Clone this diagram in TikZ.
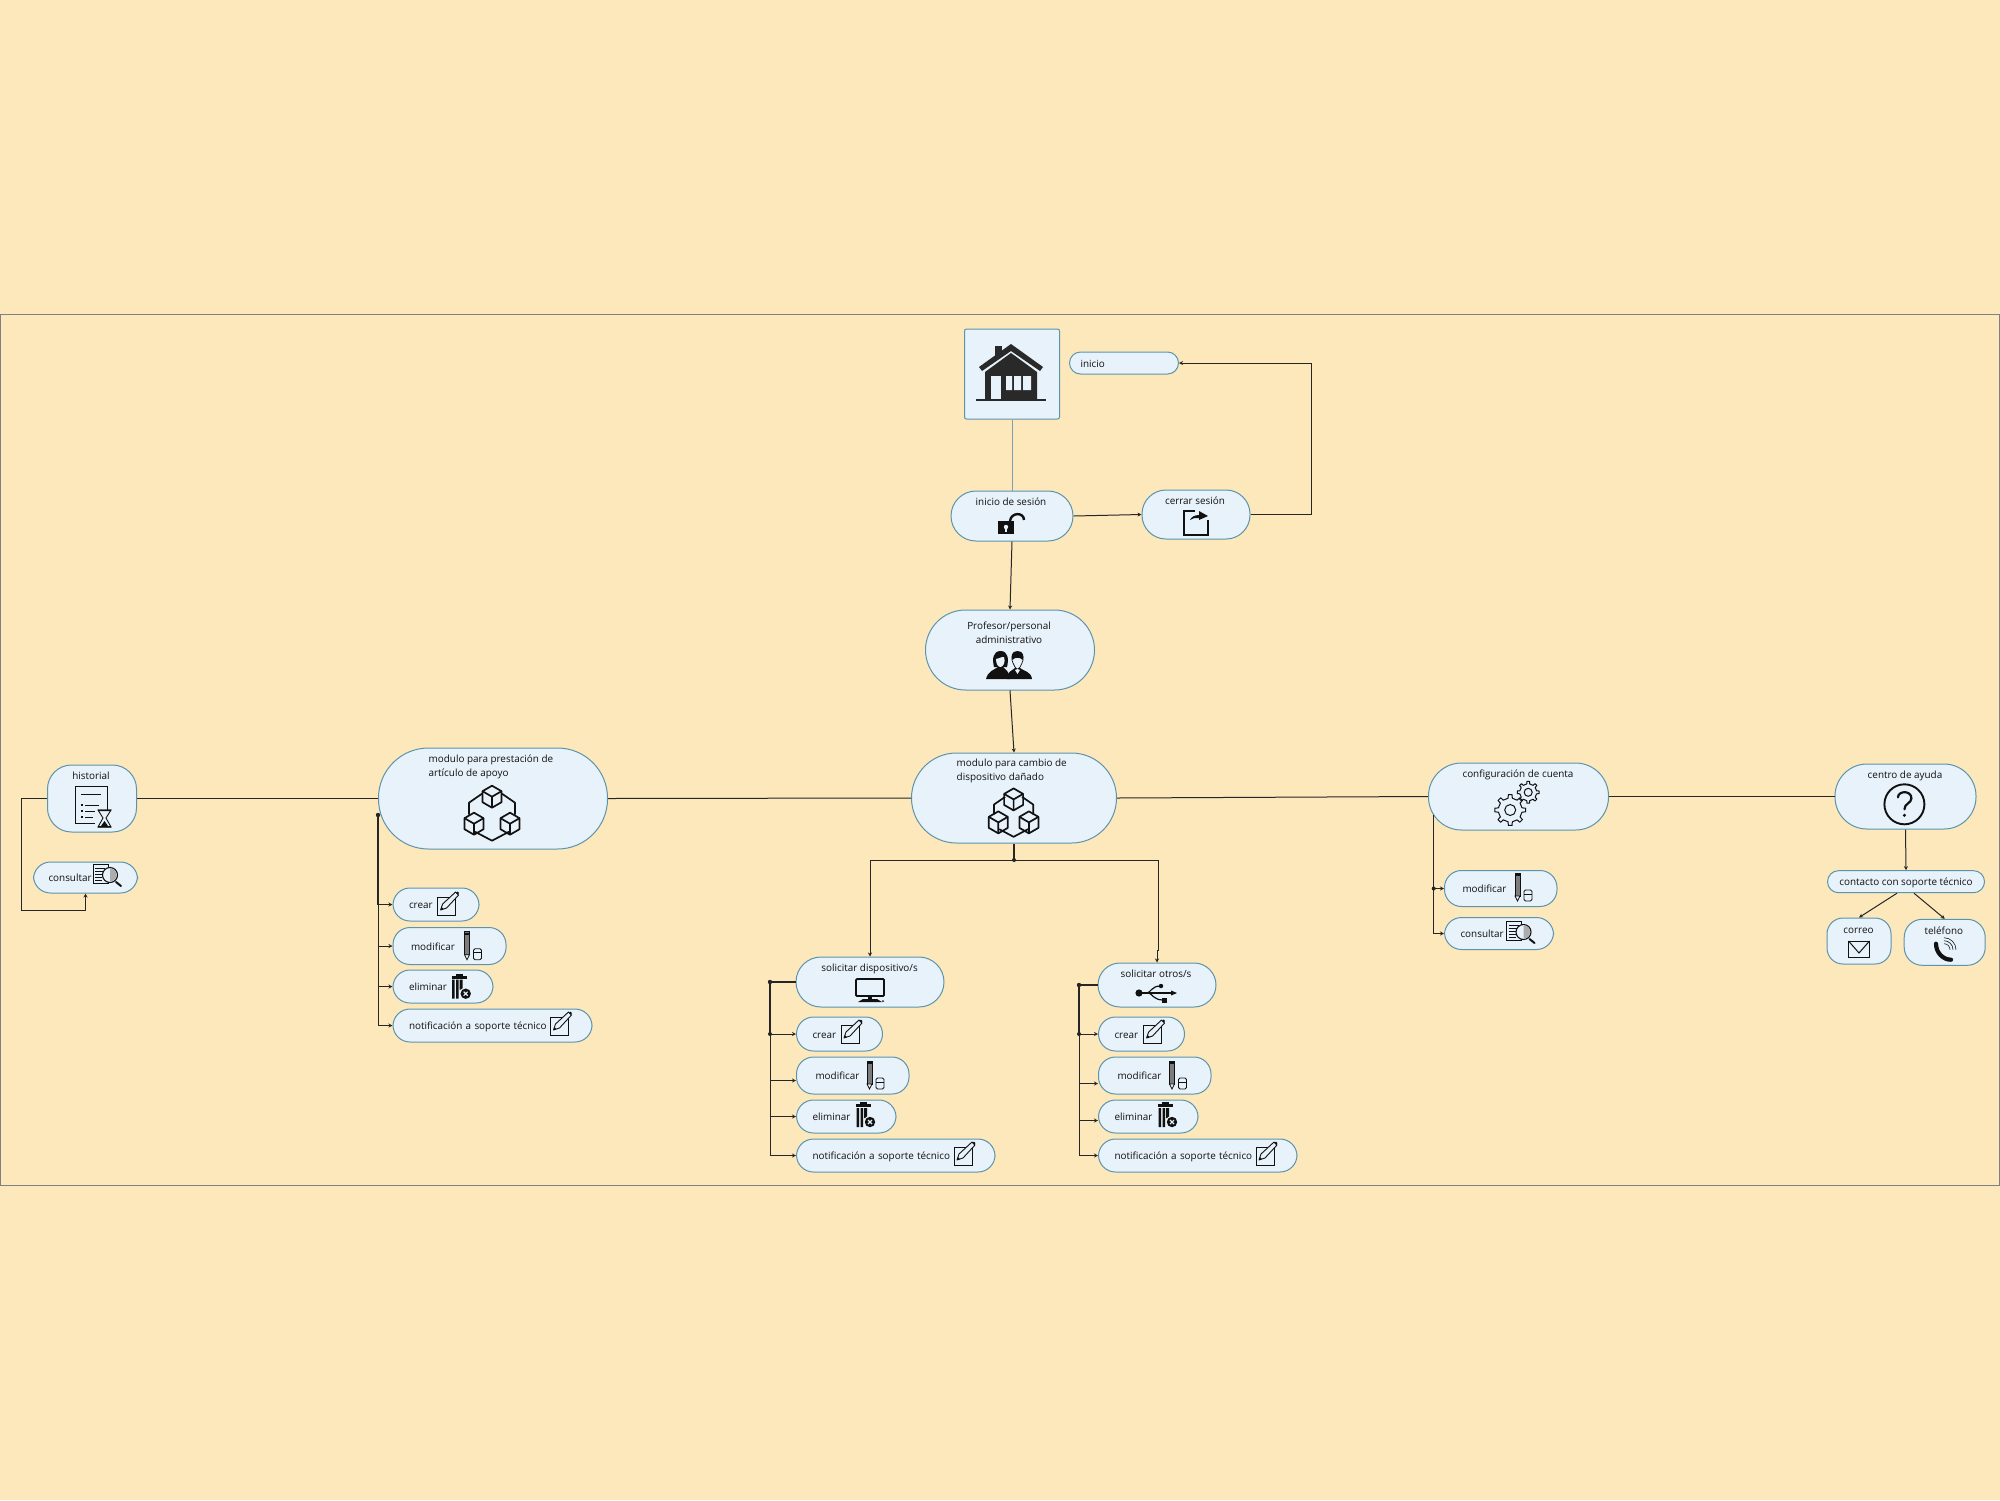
\documentclass[tikz,border=0pt]{standalone}
\usepackage{fontspec}
\setmainfont{Open Sans}
\usetikzlibrary{arrows.meta,calc}
\definecolor{paper}{HTML}{FCE8BA}
\definecolor{boxfill}{HTML}{E8F2FA}
\definecolor{boxline}{HTML}{5C93AD}
\definecolor{frameline}{HTML}{808080}
\definecolor{wire}{HTML}{262626}
\definecolor{ink}{HTML}{111111}

\tikzset{
  pill/.style={draw=boxline, fill=boxfill, line width=1pt, rounded corners=#1, inner sep=0pt},
  pill/.default=17,
  row/.style={pill, anchor=west, align=left, inner xsep=16pt, text width=#1,
    font=\fontsize{9.9}{12}\selectfont, text=ink, text height=8.5pt, text depth=.5pt},
  txt/.style={font=\fontsize{9.9}{14}\selectfont, text=ink, inner sep=0pt},
  link/.style={draw=wire, line width=1pt, -{Stealth[length=4pt,width=4pt]}},
  bar/.style={draw=wire, line width=1pt},
  % --- icons ---
  iconhouse/.pic={
    \fill[ink!90] (-32,-6) -- (0,-29) -- (32,-6) -- (29,-2) -- (0,-22) -- (-29,-2) -- cycle;
    \fill[ink!90] (-16,-27) rectangle (-9,-16);
    \fill[ink!90] (-26,-1) -- (0,-20) -- (26,-1) -- (26,26) -- (-26,26) -- cycle;
    \fill[boxfill] (-20,3) rectangle (-10,26);
    \fill[boxfill] (-5,3) rectangle (1,17) (3,3) rectangle (10,17) (12,3) rectangle (20,17);
    \fill[ink!90] (-35,26) rectangle (35,28);
  },
  iconlock/.pic={
    \fill[ink] (-13,-3) rectangle (3,10);
    \fill[boxfill] (-5,3) circle (2.2);
    \fill[boxfill] (-6,3) rectangle (-4,8);
    \draw[ink, line width=2.4pt] (-1,-3) .. controls (0,-12) and (13,-12) .. (13,-4);
  },
  iconleave/.pic={
    \draw[ink, line width=1.8pt] (-1,-12) -- (-12,-12) -- (-12,12) -- (12,12) -- (12,-3);
    \fill[ink] (-6,-3) .. controls (-5,-6) and (-1,-8) .. (3,-8) -- (3,-12) -- (12,-7) -- (3,-3) -- (3,-5)
      .. controls (-1,-5) and (-4,-5) .. (-6,-3) -- cycle;
  },
  iconstaff/.pic={
    % woman
    \fill[ink] (-23,14) .. controls (-21,6) and (-15,5) .. (-11,2) -- (-6,2)
      .. controls (-3,5) and (0,6) .. (1,14) -- cycle;
    \fill[ink] (-8.5,-14) .. controls (-16,-14) and (-17,-6) .. (-15,2) -- (-2,2) .. controls (0,-6) and (-1,-14) .. (-8.5,-14) -- cycle;
    \fill[boxfill] (-13,-6) .. controls (-8,-7) and (-6,-9) .. (-5,-8) .. controls (-3,-3) and (-6,2) .. (-8.5,2)
      .. controls (-11,2) and (-13,-1) .. (-13,-6) -- cycle;
    % man
    \fill[ink] (-2,14) .. controls (-2,6) and (3,6) .. (6,3) -- (11,3)
      .. controls (14,6) and (22,6) .. (23,14) -- cycle;
    \draw[ink, fill=boxfill, line width=.7pt] (8.5,-13) .. controls (2,-13) and (2,-5) .. (4,-2)
      .. controls (5,1) and (7,4) .. (8.5,4) .. controls (10,4) and (12,1) .. (13,-2) .. controls (15,-5) and (15,-13) .. (8.5,-13) -- cycle;
    \fill[ink] (8.5,-14) .. controls (2,-14) and (2,-8) .. (3.5,-5) .. controls (5,-8) and (12,-8) .. (13.5,-5)
      .. controls (15,-8) and (15,-14) .. (8.5,-14) -- cycle;
    \fill[boxfill] (6,5) -- (8.5,9) -- (11,5) -- (8.5,4) -- cycle;
  },
  cubeicon/.pic={
    \draw[ink, line width=1.7pt, line join=round] (0,-11) -- (9.5,-5.5) -- (9.5,5.5) -- (0,11) -- (-9.5,5.5) -- (-9.5,-5.5) -- cycle;
    \draw[ink, line width=1.7pt, line join=round] (-9.5,-5.5) -- (0,0) -- (9.5,-5.5) (0,0) -- (0,11);
  },
  iconcubes/.pic={
    \draw[ink, line width=1.7pt, line join=round] (10,-19) -- (23,-10) -- (23,2) (-10,-19) -- (-23,-10) -- (-23,2);
    \draw[ink, line width=1.7pt, line join=round] (-17,19) -- (0,28) -- (17,19);
    \pic at (0,-16) {cubeicon};
    \pic at (-18,11) {cubeicon};
    \pic at (18,11) {cubeicon};
  },
  iconcreate/.pic={
    \draw[ink, line width=.9pt] (-10,-8) rectangle (8,10);
    \draw[ink, fill=boxfill, line width=.9pt, line join=round] (-7,5) -- (-5,-1) -- (8,-13) -- (11,-10) -- (-1,3) -- cycle;
    \fill[ink] (-7,5) -- (-6,2) -- (-4,4) -- cycle;
    \fill[ink] (10,-12) circle (1.5);
  },
  iconedit/.pic={
    \draw[ink, fill=ink!55, line width=.8pt] (-8,-14) rectangle (-3,9);
    \fill[ink] (-8,-13) rectangle (-3,-11);
    \draw[ink, fill=boxfill, line width=.8pt] (-8,9) -- (-5.5,14) -- (-3,9) -- cycle;
    \draw[ink, line width=.8pt, rounded corners=1.5pt] (1,3) rectangle (9,14);
    \draw[ink, line width=.8pt] (1,7) -- (9,7);
  },
  icontrash/.pic={
    \fill[ink] (-9,-11) rectangle (6,-8);
    \fill[ink] (-5,-13) rectangle (2,-11);
    \fill[ink] (-8.5,-7) rectangle (-6,12) (-4.5,-7) rectangle (-2,12) (-1,-7) rectangle (2,3);
    \fill[boxfill] (5,7) circle (6.2);
    \fill[ink] (5,7) circle (5.2);
    \draw[boxfill, line width=1.1pt] (3,5) -- (7,9) (7,5) -- (3,9);
  },
  iconsearch/.pic={
    \draw[ink, fill=boxfill, line width=.8pt] (-14,-12) rectangle (1,7);
    \draw[ink, line width=.8pt] (-12,-8) -- (-2,-8) (-12,-5) -- (-3,-5) (-12,-2) -- (-5,-2) (-12,1) -- (-5,1) (-12,4) -- (-5,4);
    \draw[ink, fill=boxfill, line width=1.1pt] (3,-1) circle (7.5);
    \fill[ink!35] (3,-7.5) arc (-90:90:6.5) -- cycle;
    \draw[ink, line width=2pt, line cap=round] (9,6) -- (14,10);
  },
  iconreport/.pic={
    \draw[ink, line width=1pt] (14,6) -- (14,-20) -- (-18,-20) -- (-18,17) -- (2,17);
    \draw[ink, line width=1pt] (-12,-12) -- (8,-12) (-8,-1) -- (6,-1) (-8,5) -- (2,5) (-8,11) -- (0,11);
    \draw[ink, line width=1.2pt] (-12,-1) -- (-10,-1) (-12,5) -- (-10,5) (-12,11) -- (-10,11);
    \draw[ink, fill=boxfill, line width=.9pt] (5,4) -- (18,4) -- (13,12) -- (18,21) -- (5,21) -- (10,12) -- cycle;
    \fill[ink] (5,3.5) rectangle (18,5) (5,20) rectangle (18,21.5);
    \fill[ink] (11.5,15) -- (15,20) -- (8,20) -- cycle;
  },
  iconscreen/.pic={
    \draw[ink, line width=1.8pt, rounded corners=1pt] (-14,-11) rectangle (14,6);
    \fill[ink] (-2,6) rectangle (2,9);
    \fill[ink] (-7,9) -- (7,9) -- (12,12) -- (-12,12) -- cycle;
    \fill[ink] (13,11) circle (1);
  },
  iconusb/.pic={
    \fill[ink] (-17,0) circle (3.6);
    \draw[ink, line width=1.2pt] (-17,0) -- (16,0);
    \fill[ink] (21,0) -- (15,-2.5) -- (15,2.5) -- cycle;
    \draw[ink, line width=1.2pt] (-9,0) .. controls (-6,0) and (-4,-7) .. (4,-7);
    \fill[ink] (5,-7) circle (2.2);
    \draw[ink, line width=1.2pt] (-7,0) .. controls (-4,1) and (-2,7) .. (7,7);
    \fill[ink] (6,4.5) rectangle (11,9.5);
  },
  icongears/.pic={
    \begin{scope}[shift={(-6.5,7)}]
      \draw[ink, line width=1pt, line join=round] (-10:12)
        \foreach \a in {0,45,...,315} { -- (\a-10:12) -- (\a-7:15.5) -- (\a+7:15.5) -- (\a+10:12) } -- cycle;
      \draw[ink, line width=1pt] (0,0) circle (5.5);
    \end{scope}
    \begin{scope}[shift={(11.5,-10.7)}]
      \draw[ink, line width=1pt, line join=round] (-10:8.5)
        \foreach \a in {0,45,...,315} { -- (\a-10:8.5) -- (\a-7:11) -- (\a+7:11) -- (\a+10:8.5) } -- cycle;
      \draw[ink, line width=1pt] (0,0) circle (4);
    \end{scope}
  },
  iconhelp/.pic={
    \draw[ink, line width=1.9pt] (0,0) circle (20);
    \draw[ink, line width=2.2pt, line cap=round] (-6.5,-7) .. controls (-6,-14) and (7,-14) .. (7,-6)
      .. controls (7,-1) and (0,-1) .. (0,5);
    \fill[ink] (0,11) circle (1.7);
  },
  iconmail/.pic={
    \draw[ink, line width=1pt] (-10.5,-8) rectangle (10.5,8);
    \draw[ink, line width=1pt] (-10.5,-8) -- (0,4) -- (10.5,-8);
  },
  iconphone/.pic={
    \draw[ink, line width=4.2pt, line cap=round] (-8,-7) .. controls (-8,2) and (-1,9) .. (7,9);
    \draw[ink, line width=.6pt] (0,-7) arc (-90:0:6) (0,-10) arc (-90:0:9) (0,-13) arc (-90:0:12);
  },
}

\begin{document}
\begin{tikzpicture}[x=1pt, y=-1pt]

  % --- Page and frame ---
  \useasboundingbox (0,0) rectangle (2000,1500);
  \fill[paper] (0,0) rectangle (2000,1500);
  \draw[frameline, line width=1pt] (.5,314) rectangle (1999.5,1185);

  % --- Top: home and session ---
  \node[pill=2, minimum width=95, minimum height=90] (home) at (1012,374) {};
  \pic at (1011,373) {iconhouse};
  \node[pill=11, minimum width=109, minimum height=22, anchor=west, align=left, inner xsep=11pt, text width=87pt,
    font=\fontsize{9.9}{12}\selectfont, text=ink, text height=8.5pt, text depth=.5pt] (inicio) at (1069,363) {inicio};

  \node[pill=25, minimum width=122, minimum height=50] (sesion) at (1012,516) {};
  \node[txt] (sesiontext) at (1011,502) {inicio de sesión};
  \pic at (1011,524) {iconlock};

  \node[pill=24, minimum width=108, minimum height=49] (cerrar) at (1196,514.5) {};
  \node[txt] (cerrartext) at (1195,501) {cerrar sesión};
  \pic at (1196,523) {iconleave};

  \node[pill=40, minimum width=169, minimum height=80] (staff) at (1010,650) {};
  \node[txt, align=center] (stafftext) at (1009,632.5) {Profesor/personal\\administrativo};
  \pic at (1009,665) {iconstaff};

  % --- Middle row ---
  \node[pill=24, minimum width=89, minimum height=67] (historial) at (92,798.5) {};
  \node[txt] (historialtext) at (91,776) {historial};
  \pic at (93,806) {iconreport};

  \node[pill=50, minimum width=229, minimum height=101] (prestamo) at (493,798.5) {};
  \node[txt, align=left, anchor=north west] (prestamotext) at (428.5,754.5) {modulo para prestación de\\artículo de apoyo};
  \pic at (492,812.7) {iconcubes};

  \node[pill=45, minimum width=205, minimum height=90] (cambio) at (1014,798) {};
  \node[txt, align=left, anchor=north west] (cambiotext) at (956.5,758.5) {modulo para cambio de\\dispositivo dañado};
  \pic[scale=.85] at (1013.6,813) {iconcubes};

  \node[pill=33, minimum width=180, minimum height=67] (config) at (1518.5,796.5) {};
  \node[txt] (configtext) at (1518,774.5) {configuración de cuenta};
  \pic at (1516.7,803) {icongears};

  \node[pill=32, minimum width=141, minimum height=65] (ayuda) at (1905.5,796.5) {};
  \node[txt] (ayudatext) at (1905,775.5) {centro de ayuda};
  \pic at (1904.4,804.3) {iconhelp};

  % --- Historial child ---
  \node[row=74pt, minimum height=31, inner xsep=15pt] (consH) at (33,877.5) {consultar};
  \pic at (107,876) {iconsearch};

  % --- Prestamo children ---
  \node[row=54pt, minimum height=33] (crearP) at (392.5,904.5) {crear};
  \pic at (447.6,905) {iconcreate};
  \node[row=81pt, minimum height=37] (modP) at (392.5,946) {\hspace*{2pt}modificar};
  \pic at (472.5,945.7) {iconedit};
  \node[row=68pt, minimum height=33] (elimP) at (392.5,986.5) {eliminar};
  \pic at (460.7,986.7) {icontrash};
  \node[row=167pt, minimum height=33] (notifP) at (392.5,1025.5) {notificación a soporte técnico};
  \pic at (560.5,1025) {iconcreate};

  % --- Solicitar nodes ---
  \node[pill=25, minimum width=148, minimum height=50] (solA) at (870,982) {};
  \node[txt] (solAtext) at (869.6,968.5) {solicitar dispositivo/s};
  \pic at (870,990) {iconscreen};

  \node[pill=22, minimum width=118, minimum height=44] (solB) at (1157,985) {};
  \node[txt] (solBtext) at (1156,974) {solicitar otros/s};
  \pic at (1156,993) {iconusb};

  % --- Children, left column ---
  \node[row=54pt, minimum height=34] (crearA) at (796,1034) {crear};
  \pic at (851,1033) {iconcreate};
  \node[row=80.5pt, minimum height=37] (modA) at (796,1075.5) {\hspace*{3pt}modificar};
  \pic at (875,1075) {iconedit};
  \node[row=67.5pt, minimum height=33] (elimA) at (796,1116.5) {eliminar};
  \pic at (865,1115) {icontrash};
  \node[row=166.5pt, minimum height=33] (notifA) at (796,1155.5) {notificación a soporte técnico};
  \pic at (964,1155) {iconcreate};

  % --- Children, right column ---
  \node[row=54pt, minimum height=34] (crearB) at (1098,1034) {crear};
  \pic at (1153.6,1033) {iconcreate};
  \node[row=80.5pt, minimum height=37] (modB) at (1098,1075.5) {\hspace*{3pt}modificar};
  \pic at (1177.5,1075) {iconedit};
  \node[row=67.5pt, minimum height=33] (elimB) at (1098,1116.5) {eliminar};
  \pic at (1167,1115) {icontrash};
  \node[row=166.5pt, minimum height=33] (notifB) at (1098,1155.5) {notificación a soporte técnico};
  \pic at (1266,1155) {iconcreate};

  % --- Config children ---
  \node[row=80.5pt, minimum height=36] (modC) at (1444,888.5) {\hspace*{2pt}modificar};
  \pic at (1523,887) {iconedit};
  \node[row=77pt, minimum height=32] (consC) at (1444,933.5) {consultar};
  \pic at (1520.5,933) {iconsearch};

  % --- Help children ---
  \node[pill=11, minimum width=157, minimum height=22, font=\fontsize{9.9}{12}\selectfont, text=ink, text height=8.5pt, text depth=.5pt] (soporte) at (1906,881.7) {contacto con soporte técnico};
  \node[pill=16, minimum width=64, minimum height=46] (correo) at (1859,941) {};
  \node[txt] (correotext) at (1858.5,930.5) {correo};
  \pic at (1859,949) {iconmail};
  \node[pill=18, minimum width=81, minimum height=46] (telefono) at (1944.7,942.3) {};
  \node[txt] (telefonotext) at (1943.8,930.8) {teléfono};
  \pic at (1944,950.7) {iconphone};

  % --- Connectors: top ---
  \coordinate (backtop) at (1311,363);
  \draw[bar, draw=boxline!80!black!70] (home.south) -- (sesion.north);
  \draw[link] (sesion.east) -- (cerrar.west);
  \draw[link] (cerrar.east) -| (backtop) -- (inicio.east);
  \draw[link] (sesion.south) -- (staff.north);
  \draw[link] (staff.south) -- (cambio.north);

  % --- Connectors: middle row ---
  \coordinate (loopH) at (21,910);
  \draw[bar] (historial.east) -- (prestamo.west);
  \draw[bar] (prestamo.east) -- (cambio.west);
  \draw[bar] (cambio.east) -- (config.west);
  \draw[bar] (config.east) -- (ayuda.west);
  \draw[link] (historial.west) -| (loopH) -| (consH.south);

  % --- Connectors: prestamo bus ---
  \coordinate (busP) at (378,815);
  \draw[bar, line width=1.8pt] (busP) -- (busP |- crearP.west);
  \fill[wire] (busP) circle (2.2);
  \foreach \t in {crearP, modP, elimP, notifP} {
    \draw[link] (busP) |- (\t.west);
  }

  % --- Connectors: solicitar ---
  \coordinate (fork) at (1014,860);
  \coordinate (forkB) at (1158,950);
  \draw[bar, line width=1.8pt] (cambio.south) -- (fork);
  \fill[wire] (fork) circle (2);
  \draw[link] (fork) -| (solA.north);
  \draw[link] (fork) -| (forkB) -- (forkB -| solB.north) -- (solB.north);

  % --- Connectors: left column bus ---
  \coordinate (busA) at (770,982);
  \draw[bar, line width=2.2pt] (solA.west) -- (busA) -- (busA |- crearA.west);
  \fill[wire] (busA) circle (2.2);
  \fill[wire] (busA |- crearA.west) circle (2);
  \foreach \t/\dy in {crearA/0, modA/-5, elimA/0, notifA/0} {
    \draw[link] (busA) |- ([yshift=\dy pt]\t.west);
  }

  % --- Connectors: right column bus ---
  \coordinate (busB) at (1079,985);
  \draw[bar, line width=2.2pt] (solB.west) -- (busB) -- (busB |- crearB.west);
  \fill[wire] (busB) circle (2.2);
  \fill[wire] (busB |- crearB.west) circle (2);
  \foreach \t/\dy in {crearB/0, modB/-8, elimB/-4, notifB/0} {
    \draw[link] (busB) |- ([yshift=\dy pt]\t.west);
  }

  % --- Connectors: config and help ---
  \coordinate (busC) at (1433.7,815);
  \draw[bar, line width=1.4pt] (busC) -- (busC |- modC.west);
  \fill[wire] (busC |- modC.west) circle (2);
  \foreach \t in {modC, consC} {
    \draw[link] (busC) |- (\t.west);
  }
  \draw[link] (ayuda.south) -- (soporte.north);
  \draw[link] ([xshift=-9pt]soporte.south) -- (correo.north);
  \draw[link] ([xshift=8pt]soporte.south) -- (telefono.north);

\end{tikzpicture}
\end{document}
